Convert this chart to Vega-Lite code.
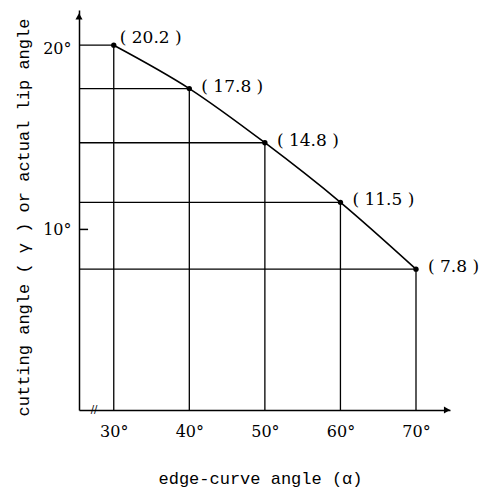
{
  "$schema": "https://vega.github.io/schema/vega-lite/v6.json",
  "width": 371,
  "height": 400,
  "autosize": "none",
  "padding": {"left": 79, "top": 10, "right": 32, "bottom": 81},
  "background": "white",
  "config": {"view": {"stroke": null}},
  "data": {"values": [
    {"alpha": 30, "gamma": 20.2, "label": "( 20.2 )"},
    {"alpha": 40, "gamma": 17.8, "label": "( 17.8 )"},
    {"alpha": 50, "gamma": 14.8, "label": "( 14.8 )"},
    {"alpha": 60, "gamma": 11.5, "label": "( 11.5 )"},
    {"alpha": 70, "gamma": 7.8, "label": "( 7.8 )"}
  ]},
  "encoding": {
    "x": {"field": "alpha", "type": "quantitative",
      "scale": {"domain": [25.4, 74.5], "nice": false, "zero": false},
      "axis": {"values": [30, 40, 50, 60, 70], "labelExpr": "datum.value + '°'",
        "domainColor": "black", "domainWidth": 1.5, "ticks": false, "tickSize": 0, "grid": false,
        "labelFont": "DejaVu Serif", "labelFontSize": 16, "labelColor": "black", "labelPadding": 13,
        "title": "edge-curve angle (α)", "titleFont": "Liberation Mono", "titleFontSize": 17,
        "titleFontWeight": "normal", "titleColor": "black", "titleX": 181, "titleY": 68,
        "titleBaseline": "middle", "titleAlign": "center"}},
    "y": {"field": "gamma", "type": "quantitative",
      "scale": {"domain": [0, 22.15], "nice": false},
      "axis": {"values": [10, 20], "labelExpr": "datum.value + '°'",
        "domainColor": "black", "domainWidth": 1.5, "ticks": false, "tickSize": 0, "grid": false,
        "labelFont": "DejaVu Serif", "labelFontSize": 16, "labelColor": "black", "labelPadding": 8,
        "title": "cutting angle ( γ ) or actual lip angle", "titleFont": "Liberation Mono", "titleFontSize": 17,
        "titleFontWeight": "normal", "titleColor": "black", "titleX": -56, "titleY": 207,
        "titleAngle": -90, "titleBaseline": "middle", "titleAlign": "center"}}
  },
  "layer": [
    {"mark": {"type": "rule", "color": "black", "strokeWidth": 1.3},
     "encoding": {"y2": {"datum": 0}}},
    {"mark": {"type": "rule", "color": "black", "strokeWidth": 1.3},
     "encoding": {"x": {"datum": 25.4}, "x2": {"field": "alpha"}}},
    {"mark": {"type": "line", "color": "black", "strokeWidth": 1.6, "interpolate": "monotone"},
     "encoding": {}},
    {"mark": {"type": "point", "filled": true, "color": "black", "size": 28, "opacity": 1},
     "encoding": {}},
    {"transform": [{"filter": "datum.alpha > 30"}],
     "mark": {"type": "text", "align": "left", "baseline": "middle", "dx": 12, "dy": -2,
       "font": "DejaVu Serif", "fontSize": 17, "color": "black"},
     "encoding": {"text": {"field": "label"}}},
    {"transform": [{"filter": "datum.alpha == 30"}],
     "mark": {"type": "text", "align": "left", "baseline": "middle", "dx": 6, "dy": -7,
       "font": "DejaVu Serif", "fontSize": 17, "color": "black"},
     "encoding": {"text": {"field": "label"}}},
    {"data": {"values": [{"alpha": 25.4, "alpha2": 26.6, "gamma": 10}]},
     "mark": {"type": "rule", "color": "black", "strokeWidth": 1.5},
     "encoding": {"x2": {"field": "alpha2"}}},
    {"data": {"values": [{"alpha": 25.4, "gamma": 21.8, "sh": "triangle-up"}, {"alpha": 74.1, "gamma": 0, "sh": "triangle-right"}]},
     "mark": {"type": "point", "filled": true, "color": "black", "size": 50, "opacity": 1},
     "encoding": {"shape": {"field": "sh", "type": "nominal", "scale": null, "legend": null}}},
    {"data": {"values": [{"alpha": 27.4, "gamma": 0, "brk": "//"}]},
     "mark": {"type": "text", "align": "center", "baseline": "middle", "font": "DejaVu Sans", "fontSize": 10, "color": "black"},
     "encoding": {"text": {"field": "brk"}}}
  ]
}
